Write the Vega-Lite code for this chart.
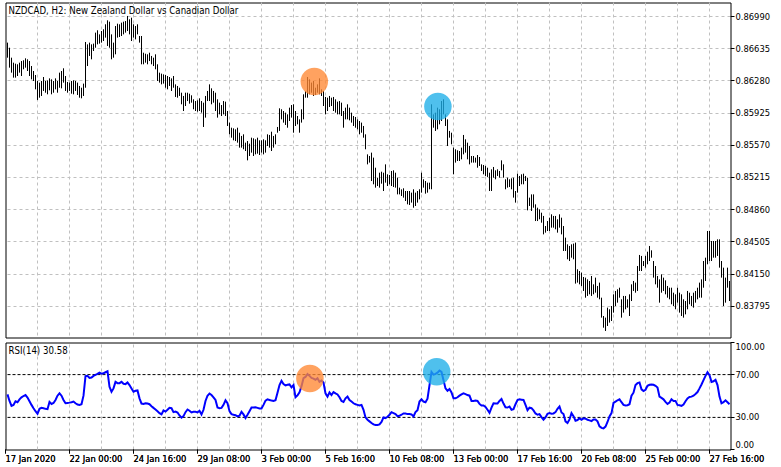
{
  "$schema": "https://vega.github.io/schema/vega-lite/v6.json",
  "padding": {"left": 2.5, "top": 1.5, "right": 0, "bottom": 0},
  "background": "white",
  "spacing": 3,
  "datasets": {
    "bars": [
      {"bar":0,"high":0.86702,"low":0.86536,"rsi":51.5},
      {"bar":1,"high":0.86646,"low":0.86426,"rsi":45.4},
      {"bar":2,"high":0.86536,"low":0.86371,"rsi":40.8},
      {"bar":3,"high":0.86481,"low":0.86316,"rsi":41.7},
      {"bar":4,"high":0.86470,"low":0.86316,"rsi":45.1},
      {"bar":5,"high":0.86463,"low":0.86334,"rsi":44.2},
      {"bar":6,"high":0.86481,"low":0.86371,"rsi":46.9},
      {"bar":7,"high":0.86499,"low":0.86334,"rsi":48.8},
      {"bar":8,"high":0.86507,"low":0.86408,"rsi":50.0},
      {"bar":9,"high":0.86529,"low":0.86426,"rsi":50.9},
      {"bar":10,"high":0.86518,"low":0.86389,"rsi":48.5},
      {"bar":11,"high":0.86499,"low":0.86334,"rsi":45.1},
      {"bar":12,"high":0.86444,"low":0.86297,"rsi":41.7},
      {"bar":13,"high":0.86389,"low":0.86279,"rsi":38.6},
      {"bar":14,"high":0.86345,"low":0.86187,"rsi":35.8},
      {"bar":15,"high":0.86279,"low":0.86070,"rsi":33.4},
      {"bar":16,"high":0.86261,"low":0.86095,"rsi":38.0},
      {"bar":17,"high":0.86279,"low":0.86114,"rsi":38.9},
      {"bar":18,"high":0.86323,"low":0.86169,"rsi":38.6},
      {"bar":19,"high":0.86279,"low":0.86150,"rsi":38.0},
      {"bar":20,"high":0.86286,"low":0.86132,"rsi":37.7},
      {"bar":21,"high":0.86308,"low":0.86176,"rsi":44.5},
      {"bar":22,"high":0.86297,"low":0.86132,"rsi":42.6},
      {"bar":23,"high":0.86279,"low":0.86150,"rsi":43.5},
      {"bar":24,"high":0.86308,"low":0.86187,"rsi":46.3},
      {"bar":25,"high":0.86279,"low":0.86150,"rsi":50.3},
      {"bar":26,"high":0.86371,"low":0.86205,"rsi":52.5},
      {"bar":27,"high":0.86389,"low":0.86198,"rsi":50.3},
      {"bar":28,"high":0.86419,"low":0.86261,"rsi":46.3},
      {"bar":29,"high":0.86334,"low":0.86169,"rsi":43.2},
      {"bar":30,"high":0.86268,"low":0.86150,"rsi":43.5},
      {"bar":31,"high":0.86261,"low":0.86169,"rsi":43.8},
      {"bar":32,"high":0.86279,"low":0.86139,"rsi":44.2},
      {"bar":33,"high":0.86286,"low":0.86132,"rsi":44.8},
      {"bar":34,"high":0.86279,"low":0.86169,"rsi":43.2},
      {"bar":35,"high":0.86261,"low":0.86125,"rsi":42.0},
      {"bar":36,"high":0.86224,"low":0.86095,"rsi":41.7},
      {"bar":37,"high":0.86205,"low":0.86088,"rsi":42.3},
      {"bar":38,"high":0.86250,"low":0.86114,"rsi":50.3},
      {"bar":39,"high":0.86709,"low":0.86205,"rsi":68.5},
      {"bar":40,"high":0.86683,"low":0.86444,"rsi":68.8},
      {"bar":41,"high":0.86702,"low":0.86555,"rsi":66.9},
      {"bar":42,"high":0.86683,"low":0.86518,"rsi":67.2},
      {"bar":43,"high":0.86691,"low":0.86610,"rsi":68.8},
      {"bar":44,"high":0.86812,"low":0.86646,"rsi":69.7},
      {"bar":45,"high":0.86838,"low":0.86683,"rsi":70.6},
      {"bar":46,"high":0.86793,"low":0.86691,"rsi":71.8},
      {"bar":47,"high":0.86830,"low":0.86702,"rsi":70.9},
      {"bar":48,"high":0.86849,"low":0.86720,"rsi":71.2},
      {"bar":49,"high":0.86904,"low":0.86757,"rsi":72.2},
      {"bar":50,"high":0.86948,"low":0.86665,"rsi":73.1},
      {"bar":51,"high":0.86933,"low":0.86646,"rsi":58.6},
      {"bar":52,"high":0.86793,"low":0.86518,"rsi":54.0},
      {"bar":53,"high":0.86702,"low":0.86536,"rsi":57.1},
      {"bar":54,"high":0.86885,"low":0.86573,"rsi":63.2},
      {"bar":55,"high":0.86911,"low":0.86757,"rsi":62.0},
      {"bar":56,"high":0.86904,"low":0.86764,"rsi":62.0},
      {"bar":57,"high":0.86922,"low":0.86775,"rsi":63.2},
      {"bar":58,"high":0.86933,"low":0.86793,"rsi":61.4},
      {"bar":59,"high":0.86940,"low":0.86812,"rsi":61.1},
      {"bar":60,"high":0.86996,"low":0.86830,"rsi":62.6},
      {"bar":61,"high":0.86959,"low":0.86793,"rsi":60.2},
      {"bar":62,"high":0.86977,"low":0.86720,"rsi":57.1},
      {"bar":63,"high":0.86904,"low":0.86757,"rsi":54.0},
      {"bar":64,"high":0.86885,"low":0.86738,"rsi":54.9},
      {"bar":65,"high":0.86904,"low":0.86793,"rsi":55.2},
      {"bar":66,"high":0.86775,"low":0.86702,"rsi":47.8},
      {"bar":67,"high":0.86775,"low":0.86463,"rsi":42.9},
      {"bar":68,"high":0.86591,"low":0.86463,"rsi":42.6},
      {"bar":69,"high":0.86580,"low":0.86481,"rsi":43.2},
      {"bar":70,"high":0.86573,"low":0.86463,"rsi":42.9},
      {"bar":71,"high":0.86591,"low":0.86499,"rsi":42.3},
      {"bar":72,"high":0.86555,"low":0.86463,"rsi":40.5},
      {"bar":73,"high":0.86536,"low":0.86444,"rsi":38.9},
      {"bar":74,"high":0.86573,"low":0.86408,"rsi":37.4},
      {"bar":75,"high":0.86463,"low":0.86279,"rsi":35.8},
      {"bar":76,"high":0.86371,"low":0.86261,"rsi":34.0},
      {"bar":77,"high":0.86360,"low":0.86242,"rsi":32.8},
      {"bar":78,"high":0.86352,"low":0.86250,"rsi":36.5},
      {"bar":79,"high":0.86345,"low":0.86205,"rsi":35.5},
      {"bar":80,"high":0.86334,"low":0.86187,"rsi":37.1},
      {"bar":81,"high":0.86323,"low":0.86224,"rsi":38.9},
      {"bar":82,"high":0.86308,"low":0.86169,"rsi":38.6},
      {"bar":83,"high":0.86334,"low":0.86205,"rsi":34.9},
      {"bar":84,"high":0.86242,"low":0.86103,"rsi":35.5},
      {"bar":85,"high":0.86224,"low":0.86095,"rsi":34.6},
      {"bar":86,"high":0.86205,"low":0.86114,"rsi":31.8},
      {"bar":87,"high":0.86150,"low":0.86022,"rsi":29.7},
      {"bar":88,"high":0.86114,"low":0.85948,"rsi":31.2},
      {"bar":89,"high":0.86150,"low":0.86003,"rsi":34.9},
      {"bar":90,"high":0.86150,"low":0.86058,"rsi":37.4},
      {"bar":91,"high":0.86139,"low":0.86029,"rsi":36.2},
      {"bar":92,"high":0.86121,"low":0.86040,"rsi":34.6},
      {"bar":93,"high":0.86077,"low":0.85967,"rsi":35.2},
      {"bar":94,"high":0.86058,"low":0.85948,"rsi":35.2},
      {"bar":95,"high":0.86066,"low":0.85941,"rsi":34.6},
      {"bar":96,"high":0.86088,"low":0.85948,"rsi":36.2},
      {"bar":97,"high":0.86058,"low":0.85930,"rsi":32.8},
      {"bar":98,"high":0.86040,"low":0.85772,"rsi":37.1},
      {"bar":99,"high":0.86114,"low":0.85875,"rsi":45.4},
      {"bar":100,"high":0.86169,"low":0.86058,"rsi":50.3},
      {"bar":101,"high":0.86242,"low":0.86058,"rsi":52.2},
      {"bar":102,"high":0.86198,"low":0.86022,"rsi":50.9},
      {"bar":103,"high":0.86169,"low":0.86040,"rsi":48.8},
      {"bar":104,"high":0.86150,"low":0.85948,"rsi":46.3},
      {"bar":105,"high":0.86077,"low":0.85875,"rsi":39.2},
      {"bar":106,"high":0.86040,"low":0.85911,"rsi":38.6},
      {"bar":107,"high":0.86014,"low":0.85893,"rsi":38.9},
      {"bar":108,"high":0.86058,"low":0.85911,"rsi":41.7},
      {"bar":109,"high":0.86051,"low":0.85893,"rsi":46.0},
      {"bar":110,"high":0.85948,"low":0.85783,"rsi":43.2},
      {"bar":111,"high":0.85820,"low":0.85691,"rsi":35.8},
      {"bar":112,"high":0.85764,"low":0.85654,"rsi":33.1},
      {"bar":113,"high":0.85757,"low":0.85625,"rsi":32.5},
      {"bar":114,"high":0.85746,"low":0.85617,"rsi":32.1},
      {"bar":115,"high":0.85764,"low":0.85599,"rsi":30.9},
      {"bar":116,"high":0.85709,"low":0.85544,"rsi":31.5},
      {"bar":117,"high":0.85673,"low":0.85544,"rsi":35.2},
      {"bar":118,"high":0.85691,"low":0.85526,"rsi":32.8},
      {"bar":119,"high":0.85599,"low":0.85507,"rsi":29.4},
      {"bar":120,"high":0.85617,"low":0.85404,"rsi":32.5},
      {"bar":121,"high":0.85588,"low":0.85452,"rsi":35.8},
      {"bar":122,"high":0.85654,"low":0.85489,"rsi":39.2},
      {"bar":123,"high":0.85647,"low":0.85452,"rsi":39.2},
      {"bar":124,"high":0.85636,"low":0.85470,"rsi":39.5},
      {"bar":125,"high":0.85654,"low":0.85478,"rsi":38.9},
      {"bar":126,"high":0.85625,"low":0.85463,"rsi":38.3},
      {"bar":127,"high":0.85625,"low":0.85489,"rsi":38.3},
      {"bar":128,"high":0.85636,"low":0.85470,"rsi":41.7},
      {"bar":129,"high":0.85625,"low":0.85489,"rsi":45.7},
      {"bar":130,"high":0.85691,"low":0.85562,"rsi":46.9},
      {"bar":131,"high":0.85684,"low":0.85544,"rsi":46.3},
      {"bar":132,"high":0.85720,"low":0.85507,"rsi":45.7},
      {"bar":133,"high":0.85673,"low":0.85544,"rsi":45.4},
      {"bar":134,"high":0.85691,"low":0.85581,"rsi":46.0},
      {"bar":135,"high":0.85772,"low":0.85709,"rsi":53.1},
      {"bar":136,"high":0.85978,"low":0.85728,"rsi":60.2},
      {"bar":137,"high":0.85967,"low":0.85856,"rsi":64.1},
      {"bar":138,"high":0.85948,"low":0.85820,"rsi":61.1},
      {"bar":139,"high":0.85930,"low":0.85794,"rsi":59.9},
      {"bar":140,"high":0.85911,"low":0.85764,"rsi":60.5},
      {"bar":141,"high":0.85985,"low":0.85838,"rsi":60.8},
      {"bar":142,"high":0.86014,"low":0.85875,"rsi":58.0},
      {"bar":143,"high":0.86022,"low":0.85709,"rsi":60.2},
      {"bar":144,"high":0.85948,"low":0.85783,"rsi":48.8},
      {"bar":145,"high":0.85893,"low":0.85801,"rsi":50.6},
      {"bar":146,"high":0.85856,"low":0.85709,"rsi":53.4},
      {"bar":147,"high":0.85967,"low":0.85820,"rsi":59.2},
      {"bar":148,"high":0.86132,"low":0.85856,"rsi":66.6},
      {"bar":149,"high":0.86169,"low":0.86095,"rsi":67.8},
      {"bar":150,"high":0.86323,"low":0.86095,"rsi":70.6},
      {"bar":151,"high":0.86297,"low":0.86132,"rsi":68.8},
      {"bar":152,"high":0.86261,"low":0.86150,"rsi":66.9},
      {"bar":153,"high":0.86279,"low":0.86114,"rsi":66.3},
      {"bar":154,"high":0.86205,"low":0.86125,"rsi":65.1},
      {"bar":155,"high":0.86242,"low":0.86150,"rsi":66.6},
      {"bar":156,"high":0.86308,"low":0.86132,"rsi":63.2},
      {"bar":157,"high":0.86187,"low":0.86114,"rsi":64.5},
      {"bar":158,"high":0.86169,"low":0.86003,"rsi":62.6},
      {"bar":159,"high":0.86103,"low":0.85911,"rsi":52.5},
      {"bar":160,"high":0.86095,"low":0.85948,"rsi":49.4},
      {"bar":161,"high":0.86114,"low":0.85992,"rsi":53.4},
      {"bar":162,"high":0.86095,"low":0.86003,"rsi":50.9},
      {"bar":163,"high":0.86103,"low":0.85948,"rsi":53.7},
      {"bar":164,"high":0.86077,"low":0.85930,"rsi":52.5},
      {"bar":165,"high":0.86051,"low":0.85911,"rsi":51.5},
      {"bar":166,"high":0.86058,"low":0.85911,"rsi":48.8},
      {"bar":167,"high":0.86040,"low":0.85893,"rsi":45.4},
      {"bar":168,"high":0.85948,"low":0.85764,"rsi":44.5},
      {"bar":169,"high":0.85985,"low":0.85856,"rsi":47.8},
      {"bar":170,"high":0.86022,"low":0.85856,"rsi":49.4},
      {"bar":171,"high":0.85985,"low":0.85845,"rsi":46.3},
      {"bar":172,"high":0.85930,"low":0.85820,"rsi":44.8},
      {"bar":173,"high":0.85893,"low":0.85783,"rsi":43.2},
      {"bar":174,"high":0.85882,"low":0.85764,"rsi":42.3},
      {"bar":175,"high":0.85856,"low":0.85746,"rsi":41.7},
      {"bar":176,"high":0.85838,"low":0.85691,"rsi":41.1},
      {"bar":177,"high":0.85820,"low":0.85709,"rsi":41.7},
      {"bar":178,"high":0.85783,"low":0.85654,"rsi":37.1},
      {"bar":179,"high":0.85691,"low":0.85526,"rsi":30.0},
      {"bar":180,"high":0.85470,"low":0.85360,"rsi":27.8},
      {"bar":181,"high":0.85452,"low":0.85379,"rsi":26.3},
      {"bar":182,"high":0.85489,"low":0.85176,"rsi":24.8},
      {"bar":183,"high":0.85434,"low":0.85140,"rsi":23.5},
      {"bar":184,"high":0.85323,"low":0.85103,"rsi":22.9},
      {"bar":185,"high":0.85213,"low":0.85121,"rsi":22.9},
      {"bar":186,"high":0.85268,"low":0.85103,"rsi":23.5},
      {"bar":187,"high":0.85279,"low":0.85147,"rsi":25.7},
      {"bar":188,"high":0.85268,"low":0.85066,"rsi":30.0},
      {"bar":189,"high":0.85360,"low":0.85158,"rsi":29.4},
      {"bar":190,"high":0.85250,"low":0.85121,"rsi":30.6},
      {"bar":191,"high":0.85243,"low":0.85140,"rsi":32.5},
      {"bar":192,"high":0.85287,"low":0.85121,"rsi":34.9},
      {"bar":193,"high":0.85294,"low":0.85110,"rsi":34.0},
      {"bar":194,"high":0.85268,"low":0.85103,"rsi":33.1},
      {"bar":195,"high":0.85213,"low":0.85029,"rsi":31.2},
      {"bar":196,"high":0.85103,"low":0.85029,"rsi":31.5},
      {"bar":197,"high":0.85084,"low":0.85011,"rsi":32.5},
      {"bar":198,"high":0.85096,"low":0.84993,"rsi":33.7},
      {"bar":199,"high":0.85066,"low":0.84956,"rsi":33.7},
      {"bar":200,"high":0.85066,"low":0.84919,"rsi":33.1},
      {"bar":201,"high":0.85066,"low":0.84912,"rsi":33.1},
      {"bar":202,"high":0.85048,"low":0.84938,"rsi":32.8},
      {"bar":203,"high":0.85085,"low":0.84882,"rsi":30.9},
      {"bar":204,"high":0.85048,"low":0.84901,"rsi":34.9},
      {"bar":205,"high":0.85066,"low":0.84938,"rsi":36.8},
      {"bar":206,"high":0.85085,"low":0.84974,"rsi":44.8},
      {"bar":207,"high":0.85268,"low":0.85048,"rsi":46.9},
      {"bar":208,"high":0.85195,"low":0.85103,"rsi":44.8},
      {"bar":209,"high":0.85176,"low":0.85037,"rsi":44.2},
      {"bar":210,"high":0.85158,"low":0.85048,"rsi":47.5},
      {"bar":211,"high":0.85158,"low":0.85085,"rsi":60.2},
      {"bar":212,"high":0.86022,"low":0.85085,"rsi":72.5},
      {"bar":213,"high":0.85911,"low":0.85764,"rsi":70.0},
      {"bar":214,"high":0.85930,"low":0.85728,"rsi":70.6},
      {"bar":215,"high":0.85985,"low":0.85746,"rsi":71.8},
      {"bar":216,"high":0.85967,"low":0.85801,"rsi":73.7},
      {"bar":217,"high":0.86058,"low":0.85838,"rsi":72.5},
      {"bar":218,"high":0.86077,"low":0.85911,"rsi":64.8},
      {"bar":219,"high":0.85911,"low":0.85783,"rsi":57.1},
      {"bar":220,"high":0.85856,"low":0.85562,"rsi":54.9},
      {"bar":221,"high":0.85728,"low":0.85654,"rsi":56.5},
      {"bar":222,"high":0.85709,"low":0.85581,"rsi":53.4},
      {"bar":223,"high":0.85544,"low":0.85250,"rsi":47.8},
      {"bar":224,"high":0.85526,"low":0.85379,"rsi":47.8},
      {"bar":225,"high":0.85515,"low":0.85397,"rsi":48.8},
      {"bar":226,"high":0.85507,"low":0.85397,"rsi":50.3},
      {"bar":227,"high":0.85544,"low":0.85415,"rsi":51.5},
      {"bar":228,"high":0.85684,"low":0.85470,"rsi":52.5},
      {"bar":229,"high":0.85636,"low":0.85489,"rsi":51.8},
      {"bar":230,"high":0.85599,"low":0.85415,"rsi":50.9},
      {"bar":231,"high":0.85562,"low":0.85360,"rsi":50.3},
      {"bar":232,"high":0.85452,"low":0.85379,"rsi":45.4},
      {"bar":233,"high":0.85452,"low":0.85379,"rsi":45.4},
      {"bar":234,"high":0.85434,"low":0.85379,"rsi":45.7},
      {"bar":235,"high":0.85463,"low":0.85323,"rsi":45.4},
      {"bar":236,"high":0.85441,"low":0.85342,"rsi":42.6},
      {"bar":237,"high":0.85360,"low":0.85287,"rsi":41.1},
      {"bar":238,"high":0.85353,"low":0.85250,"rsi":41.1},
      {"bar":239,"high":0.85342,"low":0.85232,"rsi":39.8},
      {"bar":240,"high":0.85323,"low":0.85221,"rsi":37.1},
      {"bar":241,"high":0.85268,"low":0.85066,"rsi":34.3},
      {"bar":242,"high":0.85305,"low":0.85066,"rsi":39.2},
      {"bar":243,"high":0.85331,"low":0.85213,"rsi":43.2},
      {"bar":244,"high":0.85294,"low":0.85195,"rsi":42.9},
      {"bar":245,"high":0.85305,"low":0.85232,"rsi":42.9},
      {"bar":246,"high":0.85287,"low":0.85213,"rsi":45.4},
      {"bar":247,"high":0.85404,"low":0.85294,"rsi":47.2},
      {"bar":248,"high":0.85360,"low":0.85213,"rsi":42.9},
      {"bar":249,"high":0.85195,"low":0.85085,"rsi":39.5},
      {"bar":250,"high":0.85213,"low":0.85103,"rsi":39.2},
      {"bar":251,"high":0.85195,"low":0.85110,"rsi":40.2},
      {"bar":252,"high":0.85206,"low":0.85085,"rsi":37.1},
      {"bar":253,"high":0.85213,"low":0.84993,"rsi":37.7},
      {"bar":254,"high":0.85066,"low":0.84938,"rsi":42.3},
      {"bar":255,"high":0.85257,"low":0.85048,"rsi":46.3},
      {"bar":256,"high":0.85232,"low":0.85121,"rsi":46.9},
      {"bar":257,"high":0.85250,"low":0.85140,"rsi":46.6},
      {"bar":258,"high":0.85257,"low":0.85140,"rsi":46.3},
      {"bar":259,"high":0.85232,"low":0.85176,"rsi":41.7},
      {"bar":260,"high":0.85213,"low":0.84853,"rsi":36.8},
      {"bar":261,"high":0.84993,"low":0.84901,"rsi":39.2},
      {"bar":262,"high":0.85029,"low":0.84846,"rsi":38.6},
      {"bar":263,"high":0.85029,"low":0.84882,"rsi":36.5},
      {"bar":264,"high":0.84919,"low":0.84735,"rsi":33.7},
      {"bar":265,"high":0.84882,"low":0.84735,"rsi":32.5},
      {"bar":266,"high":0.84864,"low":0.84754,"rsi":33.1},
      {"bar":267,"high":0.84827,"low":0.84717,"rsi":30.3},
      {"bar":268,"high":0.84791,"low":0.84588,"rsi":27.8},
      {"bar":269,"high":0.84680,"low":0.84607,"rsi":30.0},
      {"bar":270,"high":0.84735,"low":0.84625,"rsi":33.4},
      {"bar":271,"high":0.84772,"low":0.84625,"rsi":34.0},
      {"bar":272,"high":0.84809,"low":0.84662,"rsi":33.4},
      {"bar":273,"high":0.84791,"low":0.84662,"rsi":33.7},
      {"bar":274,"high":0.84791,"low":0.84644,"rsi":34.9},
      {"bar":275,"high":0.84754,"low":0.84607,"rsi":38.0},
      {"bar":276,"high":0.84809,"low":0.84662,"rsi":40.2},
      {"bar":277,"high":0.84772,"low":0.84588,"rsi":34.6},
      {"bar":278,"high":0.84680,"low":0.84405,"rsi":33.1},
      {"bar":279,"high":0.84552,"low":0.84405,"rsi":26.3},
      {"bar":280,"high":0.84478,"low":0.84313,"rsi":24.8},
      {"bar":281,"high":0.84460,"low":0.84294,"rsi":28.1},
      {"bar":282,"high":0.84478,"low":0.84331,"rsi":34.0},
      {"bar":283,"high":0.84486,"low":0.84313,"rsi":31.2},
      {"bar":284,"high":0.84497,"low":0.84045,"rsi":26.9},
      {"bar":285,"high":0.84203,"low":0.84056,"rsi":27.5},
      {"bar":286,"high":0.84184,"low":0.84037,"rsi":29.1},
      {"bar":287,"high":0.84166,"low":0.84019,"rsi":27.8},
      {"bar":288,"high":0.84118,"low":0.83964,"rsi":29.1},
      {"bar":289,"high":0.84111,"low":0.83890,"rsi":28.8},
      {"bar":290,"high":0.84092,"low":0.83909,"rsi":27.8},
      {"bar":291,"high":0.84074,"low":0.83927,"rsi":27.2},
      {"bar":292,"high":0.84129,"low":0.83909,"rsi":26.6},
      {"bar":293,"high":0.84037,"low":0.83927,"rsi":28.1},
      {"bar":294,"high":0.84111,"low":0.83945,"rsi":28.1},
      {"bar":295,"high":0.84019,"low":0.83890,"rsi":26.3},
      {"bar":296,"high":0.84056,"low":0.83872,"rsi":21.7},
      {"bar":297,"high":0.83890,"low":0.83670,"rsi":20.2},
      {"bar":298,"high":0.83688,"low":0.83559,"rsi":19.8},
      {"bar":299,"high":0.83670,"low":0.83523,"rsi":21.4},
      {"bar":300,"high":0.83780,"low":0.83578,"rsi":25.7},
      {"bar":301,"high":0.83762,"low":0.83615,"rsi":30.9},
      {"bar":302,"high":0.83798,"low":0.83633,"rsi":34.0},
      {"bar":303,"high":0.83927,"low":0.83725,"rsi":43.5},
      {"bar":304,"high":0.83964,"low":0.83798,"rsi":44.8},
      {"bar":305,"high":0.83982,"low":0.83835,"rsi":46.0},
      {"bar":306,"high":0.84000,"low":0.83890,"rsi":46.9},
      {"bar":307,"high":0.83872,"low":0.83670,"rsi":44.2},
      {"bar":308,"high":0.83909,"low":0.83725,"rsi":41.7},
      {"bar":309,"high":0.83909,"low":0.83762,"rsi":41.1},
      {"bar":310,"high":0.83872,"low":0.83780,"rsi":41.4},
      {"bar":311,"high":0.83927,"low":0.83688,"rsi":42.3},
      {"bar":312,"high":0.84037,"low":0.83853,"rsi":50.3},
      {"bar":313,"high":0.84074,"low":0.83964,"rsi":53.1},
      {"bar":314,"high":0.84056,"low":0.83945,"rsi":60.2},
      {"bar":315,"high":0.84239,"low":0.83964,"rsi":62.0},
      {"bar":316,"high":0.84361,"low":0.84184,"rsi":62.6},
      {"bar":317,"high":0.84350,"low":0.84184,"rsi":56.2},
      {"bar":318,"high":0.84294,"low":0.84239,"rsi":54.6},
      {"bar":319,"high":0.84350,"low":0.84221,"rsi":55.8},
      {"bar":320,"high":0.84397,"low":0.84258,"rsi":59.5},
      {"bar":321,"high":0.84460,"low":0.84294,"rsi":60.5},
      {"bar":322,"high":0.84412,"low":0.84331,"rsi":60.8},
      {"bar":323,"high":0.84294,"low":0.84111,"rsi":60.5},
      {"bar":324,"high":0.84239,"low":0.84037,"rsi":59.5},
      {"bar":325,"high":0.84129,"low":0.84000,"rsi":58.0},
      {"bar":326,"high":0.84092,"low":0.83835,"rsi":49.4},
      {"bar":327,"high":0.84147,"low":0.83945,"rsi":48.2},
      {"bar":328,"high":0.84111,"low":0.83964,"rsi":46.9},
      {"bar":329,"high":0.84081,"low":0.83927,"rsi":44.5},
      {"bar":330,"high":0.84019,"low":0.83890,"rsi":42.6},
      {"bar":331,"high":0.84000,"low":0.83872,"rsi":43.8},
      {"bar":332,"high":0.84000,"low":0.83817,"rsi":46.9},
      {"bar":333,"high":0.83945,"low":0.83798,"rsi":45.4},
      {"bar":334,"high":0.83927,"low":0.83762,"rsi":45.4},
      {"bar":335,"high":0.84000,"low":0.83835,"rsi":41.7},
      {"bar":336,"high":0.83945,"low":0.83725,"rsi":41.4},
      {"bar":337,"high":0.83927,"low":0.83688,"rsi":40.8},
      {"bar":338,"high":0.83872,"low":0.83670,"rsi":42.0},
      {"bar":339,"high":0.83853,"low":0.83706,"rsi":45.1},
      {"bar":340,"high":0.83964,"low":0.83762,"rsi":47.8},
      {"bar":341,"high":0.83945,"low":0.83817,"rsi":49.1},
      {"bar":342,"high":0.83909,"low":0.83798,"rsi":49.4},
      {"bar":343,"high":0.83945,"low":0.83780,"rsi":50.3},
      {"bar":344,"high":0.83964,"low":0.83835,"rsi":51.8},
      {"bar":345,"high":0.84000,"low":0.83872,"rsi":53.7},
      {"bar":346,"high":0.84056,"low":0.83890,"rsi":57.1},
      {"bar":347,"high":0.84092,"low":0.83890,"rsi":60.8},
      {"bar":348,"high":0.84294,"low":0.84000,"rsi":64.8},
      {"bar":349,"high":0.84331,"low":0.84074,"rsi":68.8},
      {"bar":350,"high":0.84625,"low":0.84258,"rsi":72.2},
      {"bar":351,"high":0.84625,"low":0.84294,"rsi":69.4},
      {"bar":352,"high":0.84515,"low":0.84294,"rsi":63.2},
      {"bar":353,"high":0.84515,"low":0.84331,"rsi":63.8},
      {"bar":354,"high":0.84515,"low":0.84331,"rsi":65.1},
      {"bar":355,"high":0.84533,"low":0.84350,"rsi":60.2},
      {"bar":356,"high":0.84533,"low":0.84221,"rsi":49.4},
      {"bar":357,"high":0.84294,"low":0.84111,"rsi":43.2},
      {"bar":358,"high":0.84221,"low":0.83798,"rsi":44.2},
      {"bar":359,"high":0.84111,"low":0.83835,"rsi":46.0},
      {"bar":360,"high":0.84221,"low":0.84000,"rsi":44.2},
      {"bar":361,"high":0.84074,"low":0.83853,"rsi":42.3}
    ],
    "priceMarks": [
      {"bar":153.4,"value":0.86273,"marker":"A"},
      {"bar":215.2,"value":0.85998,"marker":"B"}
    ],
    "rsiMarks": [
      {"bar":151.2,"value":66.4,"marker":"A"},
      {"bar":214.6,"value":72.6,"marker":"B"}
    ],
    "levels": [{"level":30},{"level":70}],
    "priceCaption": [{"label":"NZDCAD, H2:  New Zealand Dollar vs Canadian Dollar"}],
    "rsiCaption": [{"label":"RSI(14) 30.58"}]
  },
  "vconcat": [
    {
      "width": 725,
      "height": 335,
      "encoding": {
        "x": {
          "type": "quantitative",
          "scale": {"domain": [-1, 361.5], "nice": false, "zero": false},
          "axis": {"orient": "bottom", "title": null, "grid": true, "labels": false, "ticks": false, "domain": false,
            "values": [15,31,47,63,79,95,111,127,143,159,175,191,207,223,239,255,271,287,303,319,335,351]}
        },
        "y": {
          "type": "quantitative",
          "scale": {"domain": [0.834509, 0.871444], "nice": false, "zero": false},
          "axis": {"orient": "right", "title": null, "grid": true, "format": ".5f", "tickSize": 4, "labelPadding": 1,
            "labelFlush": false, "labelOverlap": false,
            "values": [0.8699,0.86635,0.8628,0.85925,0.8557,0.85215,0.8486,0.84505,0.8415,0.83795]}
        }
      },
      "layer": [
        {
          "data": {"name": "bars"},
          "mark": {"type": "rule", "color": "#000", "strokeWidth": 1},
          "encoding": {
            "x": {"field": "bar"},
            "y": {"field": "high"},
            "y2": {"field": "low"}
          }
        },
        {
          "data": {"name": "priceMarks"},
          "mark": {"type": "point", "shape": "circle", "filled": true, "size": 756, "opacity": 0.78},
          "encoding": {
            "x": {"field": "bar"},
            "y": {"field": "value"},
            "color": {"field": "marker", "type": "nominal", "scale": {"domain": ["A","B"], "range": ["#ff8833","#1eaee8"]}, "legend": null}
          }
        },
        {
          "data": {"name": "priceCaption"},
          "mark": {"type": "text", "align": "left", "baseline": "alphabetic", "dx": 3, "dy": 11.2, "fontSize": 9.6, "color": "#000"},
          "encoding": {
            "x": {"datum": -1},
            "y": {"datum": 0.871444},
            "text": {"field": "label"}
          }
        }
      ]
    },
    {
      "width": 725,
      "height": 107,
      "encoding": {
        "y": {
          "type": "quantitative",
          "scale": {"domain": [0, 100], "nice": false, "zero": false},
          "axis": {"orient": "right", "title": null, "grid": false, "values": [0,30,70,100], "format": ".2f",
            "tickSize": 4, "labelPadding": 1, "labelFlush": true, "labelFlushOffset": 0, "labelOverlap": false}
        }
      },
      "layer": [
        {
          "data": {"name": "levels"},
          "mark": {"type": "rule", "color": "#000", "strokeWidth": 1, "strokeDash": [3, 2]},
          "encoding": {
            "y": {"field": "level"}
          }
        },
        {
          "data": {"name": "bars"},
          "mark": {"type": "line", "color": "#0000ff", "strokeWidth": 2},
          "encoding": {
            "x": {
              "field": "bar", "type": "quantitative",
              "scale": {"domain": [-1, 361.5], "nice": false, "zero": false},
              "axis": {"orient": "top", "title": null, "grid": true, "labels": false, "ticks": false, "domain": false,
                "values": [15,31,47,63,79,95,111,127,143,159,175,191,207,223,239,255,271,287,303,319,335,351]}
            },
            "y": {"field": "rsi"}
          }
        },
        {
          "data": {"name": "rsiMarks"},
          "mark": {"type": "point", "shape": "circle", "filled": true, "size": 756, "opacity": 0.78},
          "encoding": {
            "x": {
              "field": "bar", "type": "quantitative",
              "axis": {"orient": "bottom", "title": null, "grid": false, "domain": false, "tickSize": 4, "labelPadding": 1,
                "labelAlign": "left", "labelFlush": false, "labelOverlap": false, "labelBound": false,
                "values": [-1,31,63,95,127,159,191,223,255,287,319,351],
                "labelExpr": "['17 Jan 2020','22 Jan 00:00','24 Jan 16:00','29 Jan 08:00','3 Feb 00:00','5 Feb 16:00','10 Feb 08:00','13 Feb 00:00','17 Feb 16:00','20 Feb 08:00','25 Feb 00:00','27 Feb 16:00'][indexof([-1,31,63,95,127,159,191,223,255,287,319,351], datum.value)]"}
            },
            "y": {"field": "value"},
            "color": {"field": "marker", "type": "nominal", "scale": {"domain": ["A","B"], "range": ["#ff8833","#1eaee8"]}, "legend": null}
          }
        },
        {
          "data": {"name": "rsiCaption"},
          "mark": {"type": "text", "align": "left", "baseline": "alphabetic", "dx": 3, "dy": 11.2, "fontSize": 9.6, "color": "#000"},
          "encoding": {
            "x": {
              "datum": -1, "type": "quantitative",
              "axis": {"orient": "bottom", "title": null, "grid": false, "domain": false, "tickSize": 4, "labelPadding": 1,
                "labelAlign": "left", "labelFlush": false, "labelOverlap": false, "labelBound": false,
                "values": [-1,31,63,95,127,159,191,223,255,287,319,351],
                "labelExpr": "['17 Jan 2020','22 Jan 00:00','24 Jan 16:00','29 Jan 08:00','3 Feb 00:00','5 Feb 16:00','10 Feb 08:00','13 Feb 00:00','17 Feb 16:00','20 Feb 08:00','25 Feb 00:00','27 Feb 16:00'][indexof([-1,31,63,95,127,159,191,223,255,287,319,351], datum.value)]"}
            },
            "y": {"datum": 100},
            "text": {"field": "label"}
          }
        }
      ],
      "resolve": {"axis": {"x": "independent"}}
    }
  ],
  "config": {
    "font": "DejaVu Sans Condensed, DejaVu Sans",
    "view": {"stroke": "#000", "strokeWidth": 1},
    "axis": {
      "translate": 0,
      "domain": false,
      "labelOverlap": false,
      "labelFontSize": 9.3,
      "labelColor": "#000",
      "tickColor": "#000",
      "gridColor": "#c0c0c0",
      "gridDash": [3, 3],
      "gridOpacity": 1
    }
  }
}
